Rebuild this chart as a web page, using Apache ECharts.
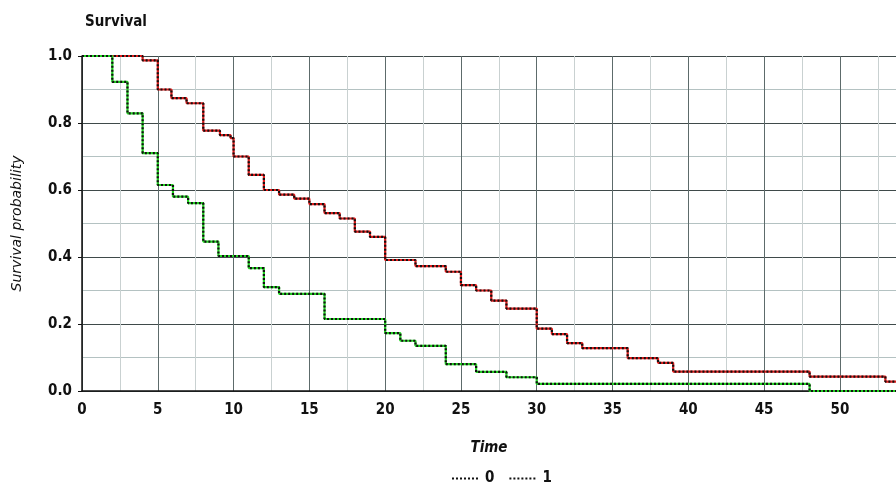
<!DOCTYPE html>
<html>
<head>
<meta charset="utf-8">
<script src="https://cdn.jsdelivr.net/npm/echarts@6/dist/echarts.min.js"></script>
<style>
  html, body { margin: 0; padding: 0; background: #fff; }
  #chart { width: 896px; height: 487px; }
</style>
</head>
<body>
<div id="chart"></div>
<script>
// 组 0 (红)
var group0Time = [0, 4, 5, 5.9, 6.9, 8, 9.1, 9.8, 10, 11, 12, 13, 14, 15, 16, 17, 18, 19, 20, 22, 24, 25, 26, 27, 28, 30, 31, 32, 33, 36, 38, 39, 48, 53]
var group0Surv = [1, 0.987, 0.90, 0.874, 0.859, 0.777, 0.764, 0.755, 0.70, 0.645, 0.60, 0.586, 0.574, 0.558, 0.531, 0.515, 0.476, 0.46, 0.391, 0.373, 0.356, 0.316, 0.30, 0.27, 0.246, 0.186, 0.17, 0.143, 0.128, 0.098, 0.084, 0.058, 0.043, 0.028]
// 组 1 (绿)
var group1Time = [0, 2, 3, 4, 5, 6, 7, 8, 9, 11, 12, 13, 16, 20, 21, 22, 24, 26, 28, 30, 48]
var group1Surv = [1, 0.923, 0.829, 0.71, 0.615, 0.58, 0.561, 0.446, 0.403, 0.367, 0.31, 0.29, 0.215, 0.173, 0.15, 0.135, 0.08, 0.057, 0.041, 0.021, 0.0]
var xTicks = [0, 5, 10, 15, 20, 25, 30, 35, 40, 45, 50]
var yTicks = [0, 0.2, 0.4, 0.6, 0.8, 1.0]
var xEnd = 53.7

var narrow = "'Liberation Sans Narrow', 'Arial Narrow', 'DejaVu Sans Condensed', sans-serif"

function toSteps(times, surv) {
  var pts = times.map(function (t, i) { return [t, surv[i]] })
  pts.push([xEnd, surv[surv.length - 1]])
  return pts
}

var chart = echarts.init(document.getElementById('chart'))

function curve(name, data, color) {
  return [
    {
      name: name,
      type: 'line',
      step: 'end',
      data: data,
      symbol: 'none',
      lineStyle: { color: '#111', width: 2.2, type: [2, 2] },
      itemStyle: { color: '#111' },
      z: 3
    },
    {
      name: name,
      type: 'line',
      step: 'end',
      data: data,
      symbol: 'none',
      lineStyle: { color: color, width: 2.2 },
      itemStyle: { color: color },
      z: 2
    }
  ]
}

var option = {
  animation: false,
  title: {
    text: 'Survival',
    left: 80,
    top: 10,
    textStyle: { fontFamily: narrow, fontSize: 15, fontWeight: 'bold', color: '#111' }
  },
  grid: { left: 82, right: 0, top: 56, bottom: 96 },
  legend: {
    data: ['0', '1'],
    left: 446,
    top: 466,
    itemWidth: 28,
    itemHeight: 10,
    itemGap: 14,
    itemStyle: { opacity: 0 },
    textStyle: { fontFamily: narrow, fontSize: 15, fontWeight: 'bold', color: '#111' }
  },
  xAxis: {
    type: 'value',
    min: 0,
    max: xEnd,
    interval: 5,
    name: 'Time',
    nameLocation: 'middle',
    nameGap: 50,
    nameTextStyle: { fontFamily: narrow, fontSize: 15, fontWeight: 'bold', fontStyle: 'italic', color: '#111' },
    axisLine: { lineStyle: { color: '#111', width: 1.5 } },
    axisTick: { show: false },
    axisLabel: {
      showMaxLabel: false,
      fontFamily: narrow, fontSize: 15, fontWeight: 'bold', color: '#111', margin: 12,
      formatter: function (v) { return xTicks.indexOf(v) >= 0 ? String(v) : '' }
    },
    splitLine: { show: true, lineStyle: { color: '#5d6b6b', width: 1 } },
    minorTick: { show: false, splitNumber: 2 },
    minorSplitLine: { show: true, lineStyle: { color: '#c9d1d1', width: 1 } }
  },
  yAxis: {
    type: 'value',
    min: 0,
    max: 1,
    interval: 0.2,
    name: 'Survival probability',
    nameLocation: 'middle',
    nameGap: 58,
    nameRotate: 90,
    nameTextStyle: { fontFamily: "'DejaVu Sans', sans-serif", fontSize: 14, fontStyle: 'italic', color: '#111' },
    axisLine: { show: true, lineStyle: { color: '#111', width: 1.5 } },
    axisTick: { show: true, length: 4, lineStyle: { color: '#111' } },
    axisLabel: {
      fontFamily: narrow, fontSize: 15, fontWeight: 'bold', color: '#111', margin: 10,
      formatter: function (v) {
        var hit = yTicks.filter(function (t) { return Math.abs(t - v) < 1e-6 })
        return hit.length ? v.toFixed(1) : ''
      }
    },
    splitLine: { show: true, lineStyle: { color: '#3f4a4a', width: 1.2 } },
    minorTick: { show: false, splitNumber: 2 },
    minorSplitLine: { show: true, lineStyle: { color: '#b4c2c2', width: 1 } }
  },
  series: []
    .concat(curve('0', toSteps(group0Time, group0Surv), '#e01a1a'))
    .concat(curve('1', toSteps(group1Time, group1Surv), '#22d422'))
}

chart.setOption(option)
</script>
</body>
</html>
